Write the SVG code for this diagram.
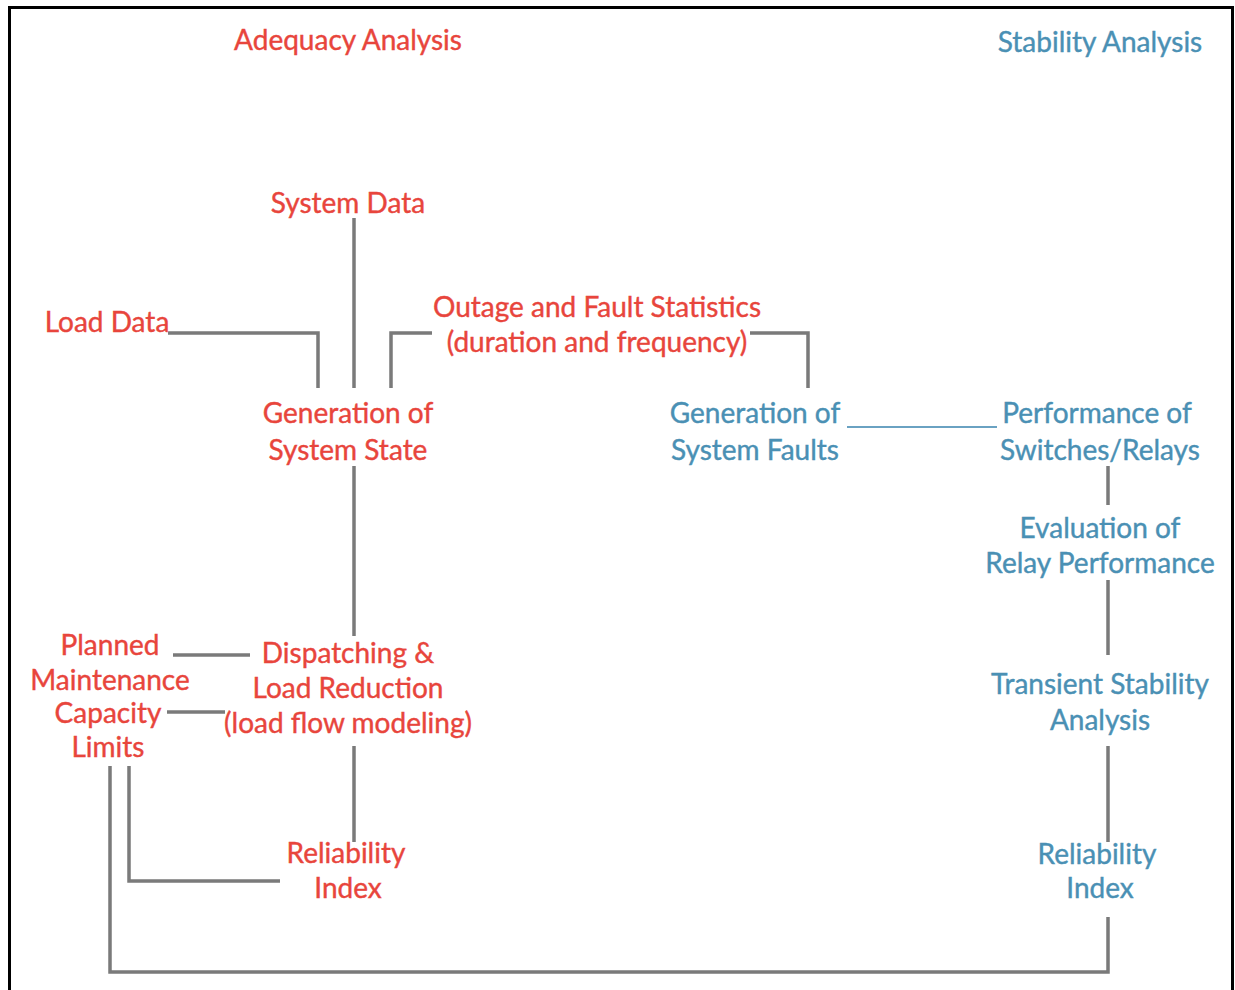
<svg xmlns="http://www.w3.org/2000/svg" width="1235" height="990" viewBox="0 0 1235 990">
<style>
text{font-family:Lato,"Liberation Sans",sans-serif;font-size:28px;text-anchor:middle;stroke-width:0.4}
.r{fill:#e8453c;stroke:#e8453c}
.b{fill:#4a90b4;stroke:#4a90b4}
.c path,.c line{fill:none;stroke:#7a7a7a;stroke-width:3.5}
.c .bl{stroke:#6aa2c2;stroke-width:2}
</style>
<rect width="1235" height="990" fill="#fff"/>
<path d="M9.5 1000 V7.5 H1232.5 V1000" fill="none" stroke="#000" stroke-width="3"/>
<g class="c" id="connectors">
<line x1="354" y1="218" x2="354" y2="388"/>
<path d="M168 333 H318 V388"/>
<path d="M391 388 V333 H432"/>
<path d="M750 333 H808 V388"/>
<line x1="354" y1="466" x2="354" y2="636"/>
<line class="bl" x1="847" y1="427" x2="997" y2="427"/>
<line x1="1108" y1="466" x2="1108" y2="505"/>
<line x1="1108" y1="580" x2="1108" y2="655"/>
<line x1="1108" y1="746" x2="1108" y2="842"/>
<path d="M1108 917 V972 H110 V766"/>
<line x1="173" y1="655" x2="250" y2="655"/>
<line x1="167" y1="712" x2="225" y2="712"/>
<line x1="354" y1="746" x2="354" y2="842"/>
<path d="M129 766 V881 H280"/>
</g>
<g id="title-adequacy"><text class="r" x="348" y="50">Adequacy Analysis</text></g>
<g id="title-stability"><text class="b" x="1100" y="52">Stability Analysis</text></g>
<g id="system-data"><text class="r" x="348" y="213">System Data</text></g>
<g id="load-data"><text class="r" x="107" y="332">Load Data</text></g>
<g id="outage-stats"><text class="r" x="597" y="317">Outage and Fault Statistics</text><text class="r" x="597" y="352">(duration and frequency)</text></g>
<g id="gen-system-state"><text class="r" x="348" y="423">Generation of</text><text class="r" x="348" y="460">System State</text></g>
<g id="gen-system-faults"><text class="b" x="755" y="423">Generation of</text><text class="b" x="755" y="460">System Faults</text></g>
<g id="performance-switches"><text class="b" x="1097" y="423">Performance of</text><text class="b" x="1100" y="460">Switches/Relays</text></g>
<g id="eval-relay"><text class="b" x="1100" y="538">Evaluation of</text><text class="b" x="1100" y="573">Relay Performance</text></g>
<g id="transient-stability"><text class="b" x="1100" y="694">Transient Stability</text><text class="b" x="1100" y="730">Analysis</text></g>
<g id="reliability-index-b"><text class="b" x="1097" y="864">Reliability</text><text class="b" x="1100" y="898">Index</text></g>
<g id="planned-maintenance"><text class="r" x="110" y="655">Planned</text><text class="r" x="110" y="690">Maintenance</text></g>
<g id="capacity-limits"><text class="r" x="108" y="723">Capacity</text><text class="r" x="108" y="757">Limits</text></g>
<g id="dispatching"><text class="r" x="348" y="663">Dispatching &amp;</text><text class="r" x="348" y="698">Load Reduction</text><text class="r" x="348" y="733">(load flow modeling)</text></g>
<g id="reliability-index-r"><text class="r" x="346" y="863">Reliability</text><text class="r" x="348" y="898">Index</text></g>
</svg>
